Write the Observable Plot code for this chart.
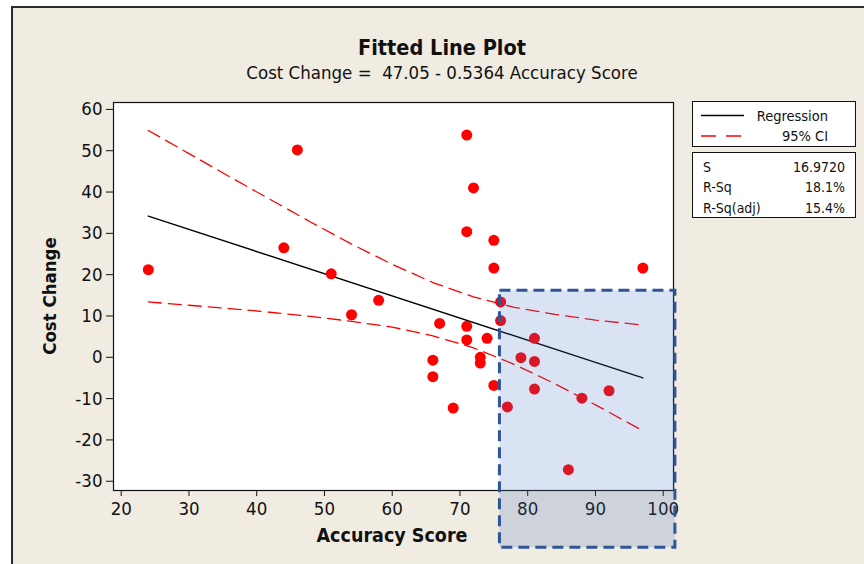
<!DOCTYPE html>
<html>
<head>
<meta charset="utf-8">
<script src="https://cdn.jsdelivr.net/npm/d3@7"></script>
<script src="https://cdn.jsdelivr.net/npm/@observablehq/plot@0.6"></script>
<style>
  html, body { margin: 0; padding: 0; background: #ffffff; }
  #wrap { position: relative; width: 864px; height: 564px; overflow: hidden;
          font-family: "DejaVu Sans Condensed", "DejaVu Sans", sans-serif; color: #111; }
  #panel { position: absolute; left: 11px; top: 6px; width: 900px; height: 600px;
           background: #f0ece2; border-left: 2px solid #2a2a2a; border-top: 2px solid #2a2a2a; }
  #chart { position: absolute; left: 0; top: 0; }
  .abs { position: absolute; white-space: pre; }
  .ctr { transform: translate(-50%, -50%); }
  .box { position: absolute; background: #fff; border: 1px solid #111; box-sizing: border-box; }
</style>
</head>
<body>
<div id="wrap">
  <div id="panel"></div>
  <div id="chart"></div>
  <div class="abs ctr" id="title" style="left:442px; top:47px; font-weight:bold; font-size:21.5px;"></div>
  <div class="abs ctr" id="subtitle" style="left:442px; top:72px; font-size:18.5px;"></div>
  <div class="abs ctr" id="xlabel" style="left:392px; top:535px; font-weight:bold; font-size:19.5px;"></div>
  <div class="abs" id="ylabel" style="left:49px; top:296px; font-weight:bold; font-size:18.5px; transform: translate(-50%, -50%) rotate(-90deg);"></div>
  <div class="box" id="legend1" style="left:692px; top:101px; width:164px; height:46px;"></div>
  <div class="box" id="legend2" style="left:692px; top:152px; width:164px; height:66px;"></div>
</div>
<script>
// ---- data ----
const accuracy = [24, 44, 46, 51, 54, 58, 66, 66, 67, 69, 71, 72, 71, 71, 71, 73,
                  73, 74, 75, 75, 75, 76, 76, 77, 79, 81, 81, 81, 86, 88, 92, 97];
const costChange = [21.2, 26.5, 50.2, 20.2, 10.3, 13.8, -0.7, -4.7, 8.2, -12.3, 53.8, 41.0, 30.4, 7.5, 4.2, 0.0,
                    -1.4, 4.6, 28.3, 21.6, -6.8, 13.4, 8.9, -12.0, -0.1, 4.6, -1.0, -7.7, -27.2, -9.9, -8.1, 21.6];

const fitX = [24, 97];
const fitY = [34.18, -4.98];

const ciX     = [24, 30, 36, 42, 48, 54, 60, 66, 72, 78, 84, 90, 97];
const ciUpper = [54.9, 49.3, 43.7, 38.2, 32.7, 27.4, 22.5, 18.1, 14.6, 12.1, 10.4, 9.0, 7.8];
const ciLower = [13.4, 12.6, 11.8, 10.9, 9.9, 8.7, 7.3, 5.2, 2.3, -1.7, -6.4, -11.5, -17.8];

const xTicks = [20, 30, 40, 50, 60, 70, 80, 90, 100];
const yTicks = [-30, -20, -10, 0, 10, 20, 30, 40, 50, 60];

const highlight = {x1: 75.9, x2: 101.8, y1: -46.1, y2: 16.1};

const titleText = "Fitted Line Plot";
const subtitleText = "Cost Change =  47.05 - 0.5364 Accuracy Score";
const xLabelText = "Accuracy Score";
const yLabelText = "Cost Change";
const legendLabels = ["Regression", "95% CI"];
const statNames = ["S", "R-Sq", "R-Sq(adj)"];
const statValues = ["16.9720", "18.1%", "15.4%"];

// ---- build tables ----
const points = accuracy.map((a, i) => ({x: a, y: costChange[i]}));
const fit = fitX.map((x, i) => ({x, y: fitY[i]}));
const upper = ciX.map((x, i) => ({x, y: ciUpper[i]}));
const lower = ciX.map((x, i) => ({x, y: ciLower[i]}));

const font = '"DejaVu Sans Condensed", "DejaVu Sans", sans-serif';
const fmt = d => String(d);

const chart = Plot.plot({
  width: 864,
  height: 564,
  marginLeft: 113,
  marginRight: 191,
  marginTop: 102,
  marginBottom: 74,
  style: {background: "transparent", fontFamily: font, fontSize: "18.5px", color: "#111", overflow: "visible"},
  x: {domain: [18.86, 101.52]},
  y: {domain: [-32.24, 61.67]},
  marks: [
    Plot.frame({fill: "white", stroke: "none"}),
    Plot.line(upper, {x: "x", y: "y", stroke: "#ff0000", strokeWidth: 1.3, strokeDasharray: "13,7", curve: "linear"}),
    Plot.line(lower, {x: "x", y: "y", stroke: "#ff0000", strokeWidth: 1.3, strokeDasharray: "13,7", curve: "linear"}),
    Plot.line(fit, {x: "x", y: "y", stroke: "#000", strokeWidth: 1.4}),
    Plot.dot(points, {x: "x", y: "y", r: 5.5, fill: "#ff0000", stroke: "none"}),
    Plot.frame({stroke: "#111", strokeWidth: 1.2}),
    Plot.axisX({ticks: xTicks, tickFormat: fmt, tickSize: 6, tickPadding: 5, label: null, fontSize: 18.5, stroke: "#111"}),
    Plot.axisY({ticks: yTicks, tickFormat: fmt, tickSize: 7, tickPadding: 4, label: null, fontSize: 18.5, stroke: "#111"}),
    Plot.rect([highlight], {x1: "x1", x2: "x2", y1: "y1", y2: "y2", fill: "#4472c4", fillOpacity: 0.2}),
    Plot.rect([highlight], {x1: "x1", x2: "x2", y1: "y1", y2: "y2", fill: "none", stroke: "#2f5597", strokeWidth: 3, strokeDasharray: "11,6"})
  ]
});
document.getElementById("chart").appendChild(chart);

document.getElementById("title").textContent = titleText;
document.getElementById("subtitle").textContent = subtitleText;
document.getElementById("xlabel").textContent = xLabelText;
document.getElementById("ylabel").textContent = yLabelText;

// legend 1: line samples
const lg1 = document.getElementById("legend1");
lg1.innerHTML =
  `<svg width="164" height="46" style="position:absolute;left:0;top:0">
     <line x1="8" x2="51" y1="13.5" y2="13.5" stroke="#000" stroke-width="1.3"/>
     <line x1="8" x2="48" y1="34" y2="34" stroke="#ff0000" stroke-width="1.3" stroke-dasharray="15,10"/>
   </svg>
   <div class="abs" style="right:27px; top:13.5px; transform:translateY(-50%); font-size:14.5px;">${legendLabels[0]}</div>
   <div class="abs" style="right:27px; top:34px; transform:translateY(-50%); font-size:14.5px;">${legendLabels[1]}</div>`;

// legend 2: statistics
const lg2 = document.getElementById("legend2");
statNames.forEach((n, i) => {
  const cy = 13.5 + i * 20.7;
  lg2.insertAdjacentHTML("beforeend",
    `<div class="abs" style="left:10px; top:${cy}px; transform:translateY(-50%); font-size:14px;">${n}</div>
     <div class="abs" style="right:10px; top:${cy}px; transform:translateY(-50%); font-size:14px;">${statValues[i]}</div>`);
});
</script>
</body>
</html>
